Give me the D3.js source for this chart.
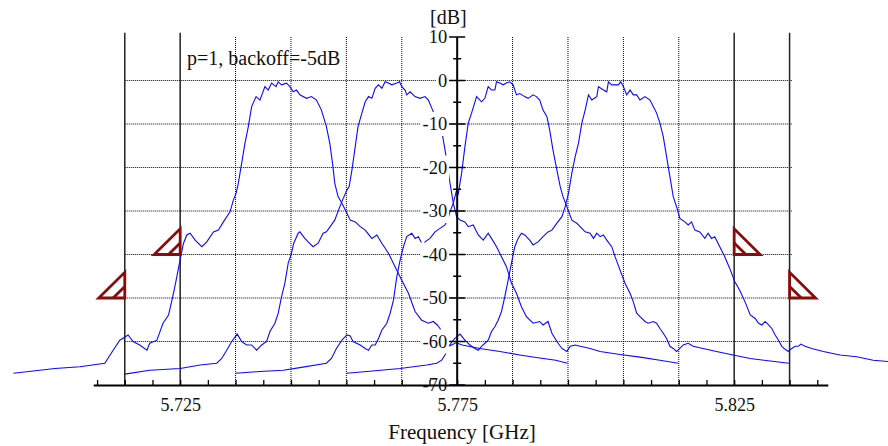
<!DOCTYPE html>
<html>
<head>
<meta charset="UTF-8">
<script src="https://d3js.org/d3.v7.min.js"></script>
<style>
  body { margin: 0; background: #fff; }
  svg text { font-family: "Liberation Serif", "Times New Roman", serif; fill: #111; }
</style>
</head>
<body>
<svg id="chart" width="888" height="446"></svg>
<script>
// ---- data: [frequency GHz, level dB] ----
var ch1 = [[5.6949,-67.3],[5.7024,-66.2],[5.7069,-65.8],[5.7114,-65.0],[5.7129,-62.0],[5.7141,-59.7],[5.7156,-58.5],[5.7165,-60.0],[5.7177,-60.8],[5.7190,-62.0],[5.7195,-60.4],[5.7208,-59.7],[5.7219,-55.8],[5.7229,-53.9],[5.7238,-48.9],[5.7244,-45.1],[5.7251,-40.5],[5.7256,-37.4],[5.7262,-35.5],[5.7268,-35.1],[5.7277,-36.7],[5.7289,-38.2],[5.7298,-37.1],[5.7310,-34.8],[5.7319,-34.4],[5.7328,-32.5],[5.7340,-30.2],[5.7346,-27.5],[5.7351,-25.9],[5.7355,-23.6],[5.7361,-19.0],[5.7367,-14.4],[5.7373,-10.6],[5.7379,-6.0],[5.7387,-3.7],[5.7394,-4.5],[5.7403,-1.4],[5.7409,-2.2],[5.7415,-0.6],[5.7423,-1.4],[5.7427,-0.3],[5.7433,-1.0],[5.7442,-0.6],[5.7448,-1.4],[5.7454,-2.6],[5.7460,-2.2],[5.7466,-3.3],[5.7478,-4.1],[5.7487,-3.7],[5.7496,-4.5],[5.7505,-6.8],[5.7514,-10.6],[5.7520,-14.4],[5.7525,-19.0],[5.7529,-23.6],[5.7535,-26.7],[5.7542,-28.2],[5.7551,-30.5],[5.7557,-32.1],[5.7566,-32.5],[5.7575,-33.6],[5.7584,-34.4],[5.7596,-36.3],[5.7605,-35.5],[5.7614,-37.4],[5.7626,-39.7],[5.7641,-43.6],[5.7650,-45.9],[5.7662,-48.9],[5.7674,-53.1],[5.7686,-55.1],[5.7698,-55.8],[5.7707,-55.4],[5.7714,-56.2],[5.7719,-57.0],[5.7726,-59.5],[5.7737,-61.0],[5.7748,-60.3],[5.7759,-60.8],[5.7791,-61.6],[5.7827,-62.3],[5.7863,-63.1],[5.7899,-63.8],[5.7928,-64.3],[5.7949,-65.0]];

var ch2 = [[5.7150,-67.5],[5.7195,-66.6],[5.7250,-66.2],[5.7286,-65.4],[5.7316,-65.0],[5.7325,-63.9],[5.7334,-62.0],[5.7343,-60.0],[5.7353,-58.3],[5.7361,-60.0],[5.7370,-60.8],[5.7379,-60.8],[5.7388,-62.0],[5.7397,-60.8],[5.7406,-60.0],[5.7412,-57.7],[5.7421,-55.8],[5.7427,-53.5],[5.7433,-49.7],[5.7439,-46.6],[5.7445,-42.0],[5.7451,-39.7],[5.7455,-37.4],[5.7463,-35.1],[5.7466,-34.8],[5.7475,-36.3],[5.7481,-37.1],[5.7490,-38.2],[5.7499,-37.4],[5.7508,-35.1],[5.7514,-34.8],[5.7523,-33.2],[5.7529,-32.1],[5.7537,-29.4],[5.7543,-27.5],[5.7551,-25.2],[5.7555,-24.4],[5.7560,-20.6],[5.7566,-15.2],[5.7571,-10.6],[5.7578,-7.5],[5.7584,-4.9],[5.7590,-3.7],[5.7596,-4.1],[5.7602,-1.8],[5.7608,-1.0],[5.7614,-1.8],[5.7620,-0.3],[5.7626,-0.6],[5.7632,-1.0],[5.7641,-0.6],[5.7646,-0.3],[5.7650,-1.4],[5.7656,-2.2],[5.7659,-3.3],[5.7665,-2.6],[5.7674,-3.7],[5.7683,-4.1],[5.7692,-3.7],[5.7698,-4.5],[5.7707,-7.2],[5.7714,-10.0],[5.7724,-12.9],[5.7729,-16.7],[5.7733,-20.0],[5.7737,-23.5],[5.7743,-28.2],[5.7749,-31.3],[5.7755,-32.1],[5.7764,-32.5],[5.7770,-33.6],[5.7779,-33.2],[5.7788,-35.5],[5.7797,-36.7],[5.7806,-35.1],[5.7812,-36.3],[5.7821,-38.2],[5.7830,-40.5],[5.7839,-42.8],[5.7848,-46.6],[5.7857,-48.9],[5.7866,-52.0],[5.7875,-54.3],[5.7887,-55.8],[5.7899,-55.4],[5.7905,-56.2],[5.7914,-55.4],[5.7921,-58.1],[5.7930,-60.0],[5.7939,-61.6],[5.7948,-62.3],[5.7954,-61.1],[5.7963,-60.8],[5.7972,-61.1],[5.7990,-61.6],[5.8008,-62.3],[5.8044,-63.0],[5.8080,-63.6],[5.8116,-64.3],[5.8149,-65.0]];

var ch3 = [[5.7350,-67.3],[5.7394,-66.9],[5.7436,-66.6],[5.7466,-66.0],[5.7514,-65.0],[5.7523,-63.9],[5.7532,-61.6],[5.7542,-59.7],[5.7551,-58.5],[5.7557,-58.7],[5.7562,-60.0],[5.7575,-60.8],[5.7584,-61.6],[5.7590,-62.0],[5.7596,-60.8],[5.7602,-60.8],[5.7608,-59.3],[5.7614,-57.4],[5.7623,-55.8],[5.7629,-53.5],[5.7635,-50.5],[5.7641,-45.1],[5.7647,-41.3],[5.7653,-38.2],[5.7659,-35.9],[5.7668,-35.1],[5.7674,-36.3],[5.7680,-35.9],[5.7686,-37.4],[5.7689,-37.8],[5.7692,-37.1],[5.7701,-36.3],[5.7710,-34.8],[5.7719,-34.0],[5.7728,-33.2],[5.7733,-32.0],[5.7737,-30.2],[5.7743,-28.2],[5.7749,-25.2],[5.7752,-26.0],[5.7758,-21.3],[5.7764,-15.2],[5.7770,-9.8],[5.7776,-7.5],[5.7785,-3.7],[5.7794,-4.9],[5.7800,-4.1],[5.7806,-1.4],[5.7812,-2.2],[5.7818,-2.2],[5.7821,-0.3],[5.7827,-0.6],[5.7833,-1.0],[5.7839,-0.6],[5.7845,-0.3],[5.7851,-1.0],[5.7857,-3.3],[5.7863,-3.0],[5.7872,-3.7],[5.7878,-4.1],[5.7887,-3.3],[5.7893,-3.7],[5.7899,-4.5],[5.7905,-6.8],[5.7912,-8.3],[5.7917,-11.4],[5.7923,-16.0],[5.7930,-20.6],[5.7936,-24.4],[5.7941,-26.7],[5.7948,-29.0],[5.7957,-32.1],[5.7966,-32.8],[5.7975,-34.0],[5.7981,-34.8],[5.7990,-35.1],[5.7996,-36.3],[5.8002,-35.1],[5.8008,-35.9],[5.8014,-35.5],[5.8020,-36.7],[5.8029,-38.2],[5.8035,-40.5],[5.8044,-43.6],[5.8053,-46.6],[5.8062,-48.9],[5.8068,-50.9],[5.8074,-53.5],[5.8080,-54.3],[5.8089,-55.4],[5.8095,-55.8],[5.8104,-55.4],[5.8110,-55.8],[5.8116,-57.0],[5.8122,-58.1],[5.8128,-59.3],[5.8134,-61.1],[5.8140,-61.6],[5.8146,-62.3],[5.8152,-61.6],[5.8158,-60.8],[5.8167,-60.4],[5.8176,-61.1],[5.8194,-61.6],[5.8218,-62.3],[5.8248,-63.1],[5.8279,-63.9],[5.8315,-64.5],[5.8349,-65.0]];

var ch4 = [[5.7550,-67.3],[5.7587,-66.9],[5.7647,-66.2],[5.7695,-65.4],[5.7713,-65.0],[5.7722,-64.3],[5.7728,-63.1],[5.7733,-61.5],[5.7741,-60.0],[5.7746,-59.3],[5.7755,-58.3],[5.7764,-59.7],[5.7773,-60.8],[5.7782,-61.6],[5.7788,-62.0],[5.7794,-61.1],[5.7800,-60.4],[5.7806,-59.7],[5.7812,-57.7],[5.7818,-56.6],[5.7824,-55.1],[5.7830,-53.1],[5.7836,-49.7],[5.7842,-45.9],[5.7848,-42.0],[5.7854,-38.2],[5.7860,-36.3],[5.7866,-35.1],[5.7872,-35.5],[5.7881,-36.7],[5.7887,-37.8],[5.7896,-37.1],[5.7905,-35.9],[5.7914,-34.8],[5.7921,-34.4],[5.7930,-32.8],[5.7939,-31.3],[5.7945,-29.0],[5.7951,-25.9],[5.7957,-21.3],[5.7963,-17.5],[5.7969,-14.4],[5.7975,-9.8],[5.7981,-6.8],[5.7987,-3.3],[5.7993,-4.5],[5.8002,-3.7],[5.8005,-1.4],[5.8014,-2.2],[5.8020,-2.6],[5.8023,-0.3],[5.8029,-1.0],[5.8035,-1.0],[5.8041,-1.0],[5.8045,-0.3],[5.8050,-1.4],[5.8056,-3.3],[5.8062,-2.2],[5.8068,-3.3],[5.8074,-3.3],[5.8080,-4.5],[5.8089,-3.7],[5.8098,-4.5],[5.8104,-6.0],[5.8110,-7.5],[5.8116,-9.8],[5.8122,-12.9],[5.8128,-17.5],[5.8134,-22.1],[5.8140,-26.7],[5.8146,-29.0],[5.8152,-31.7],[5.8161,-32.5],[5.8167,-33.2],[5.8173,-32.5],[5.8179,-34.4],[5.8188,-34.8],[5.8197,-36.3],[5.8203,-35.1],[5.8209,-36.3],[5.8215,-35.9],[5.8224,-38.2],[5.8233,-40.5],[5.8242,-43.2],[5.8251,-46.2],[5.8260,-48.2],[5.8270,-51.0],[5.8279,-53.9],[5.8288,-54.7],[5.8294,-55.8],[5.8300,-56.2],[5.8306,-55.4],[5.8312,-56.2],[5.8318,-57.0],[5.8324,-58.5],[5.8330,-59.7],[5.8336,-61.1],[5.8342,-61.8],[5.8348,-62.3],[5.8354,-61.6],[5.8360,-61.1],[5.8366,-61.1],[5.8370,-60.6],[5.8378,-61.1],[5.8390,-61.6],[5.8411,-62.3],[5.8441,-63.1],[5.8471,-63.5],[5.8501,-64.3],[5.8528,-64.6],[5.8550,-64.8]];

var traces = [ch1, ch2, ch3, ch4];

// spectrum mask corners
var maskFreq  = [5.715, 5.725, 5.825, 5.835];
var maskLevel = [-50, -40, -40, -50];
var maskSide  = [-1, -1, 1, 1];      // -1 = flag points left, 1 = right

// band edges (solid verticals) and dotted grid
var bandEdges = [5.715, 5.725, 5.825, 5.835];
var xGrid = [5.735, 5.745, 5.755, 5.765, 5.785, 5.795, 5.805, 5.815];
var yGrid = [0, -10, -20, -30, -40, -50, -60];

// ticks
var xTickLabels = ["5.725", "5.775", "5.825"];
var yTicks = [10, 0, -10, -20, -30, -40, -50, -60, -70];
var yTickLabels = ["10", "0", "-10", "-20", "-30", "-40", "-50", "-60", "-70"];
var yMinor = [5, -5, -15, -25, -35, -45, -55, -65];

var legendText = "p=1, backoff=-5dB";

var serif = "'Liberation Serif', 'Times New Roman', serif";

// ---- scales ----
var svg = d3.select("#chart");

var x = d3.scaleLinear()
	.domain([5.7093, 5.8419])
	.range([93.2, 827.8]);

var y = d3.scaleLinear()
	.domain([-70, 10])
	.range([385, 37]);

var axisX = x(5.775);

// Dotted horizontal grid
svg.append("g")
	.selectAll("line")
	.data(yGrid).enter()
	.append("line")
	.attr("x1", x(5.715))
	.attr("x2", x(5.8355))
	.attr("y1", d => y(d))
	.attr("y2", d => y(d))
	.attr("stroke", "#000")
	.attr("stroke-width", 1)
	.attr("stroke-dasharray", "1,1");

// Dotted vertical grid
svg.append("g")
	.selectAll("line")
	.data(xGrid).enter()
	.append("line")
	.attr("x1", d => x(d))
	.attr("x2", d => x(d))
	.attr("y1", y(10))
	.attr("y2", y(-70))
	.attr("stroke", "#000")
	.attr("stroke-width", 1)
	.attr("stroke-dasharray", "1,1");

// Solid band edge lines
svg.append("g")
	.selectAll("line")
	.data(bandEdges).enter()
	.append("line")
	.attr("x1", d => x(d))
	.attr("x2", d => x(d))
	.attr("y1", y(11))
	.attr("y2", y(-70))
	.attr("stroke", "#222")
	.attr("stroke-width", 1.5);

// Spectra
var line = d3.line()
	.x(d => x(d[0]))
	.y(d => y(d[1]));

svg.append("g")
	.selectAll("path")
	.data(traces).enter()
	.append("path")
	.attr("d", line)
	.attr("fill", "none")
	.attr("stroke", "#0a0aff")
	.attr("stroke-width", 1.1);

// Y tick labels with white boxes behind them (they hide the traces)
var yLab = svg.append("g");
yTicks.forEach(function(v, i){
	var g = yLab.append("g");
	var t = g.append("text")
		.attr("x", axisX - 10)
		.attr("y", y(v))
		.attr("dy", "0.34em")
		.attr("text-anchor", "end")
		.style("font-family", serif)
		.style("font-size", "18.5px")
		.text(yTickLabels[i]);
	var b = t.node().getBBox();
	g.insert("rect", "text")
		.attr("x", b.x - 2)
		.attr("y", y(v) - 12)
		.attr("width", b.width + 4)
		.attr("height", 24)
		.attr("fill", "#fff");
});

// X axis
var xAxis = d3.axisBottom(x)
	.tickValues(d3.range(5.710, 5.8401, 0.005))
	.tickSizeInner(-5)
	.tickSizeOuter(0)
	.tickPadding(13)
	.tickFormat(function(d){
		var s = d.toFixed(3);
		return xTickLabels.indexOf(s) >= 0 ? s : "";
	});

var gx = svg.append("g")
	.attr("transform", "translate(0," + y(-70) + ")")
	.call(xAxis);
gx.select(".domain").attr("stroke", "#000").attr("stroke-width", 2);
gx.selectAll(".tick line").attr("stroke", "#000").attr("stroke-width", 1.3);
gx.selectAll(".tick text")
	.style("font-family", serif)
	.style("font-size", "18px")
	.style("fill", "#111");

// Y axis line and ticks (both sides)
svg.append("line")
	.attr("x1", axisX).attr("x2", axisX)
	.attr("y1", y(10)).attr("y2", y(-70))
	.attr("stroke", "#000")
	.attr("stroke-width", 2);

svg.append("g")
	.selectAll("line")
	.data(yTicks).enter()
	.append("line")
	.attr("x1", axisX - 8).attr("x2", axisX + 8)
	.attr("y1", d => y(d)).attr("y2", d => y(d))
	.attr("stroke", "#000")
	.attr("stroke-width", 1.5);

svg.append("g")
	.selectAll("line")
	.data(yMinor).enter()
	.append("line")
	.attr("x1", axisX - 4).attr("x2", axisX + 4)
	.attr("y1", d => y(d)).attr("y2", d => y(d))
	.attr("stroke", "#000")
	.attr("stroke-width", 1.5);

// Mask flags (triangles)
var flagW = 0.0047, flagH = 5.9, inner = 0.45;
var flags = svg.append("g")
	.attr("fill", "none")
	.attr("stroke", "#8b0a0a")
	.attr("stroke-width", 2.8);
maskFreq.forEach(function(f, i){
	var s = maskSide[i], lv = maskLevel[i];
	var x0 = x(f), y0 = y(lv);
	var xt = x(f + s * flagW), yt = y(lv + flagH);
	var xi = x(f + s * flagW * inner), yi = y(lv + flagH * inner);
	flags.append("path")
		.attr("d", "M" + x0 + "," + yt + " L" + x0 + "," + y0 + " L" + xt + "," + y0 + " Z");
	flags.append("path")
		.attr("d", "M" + x0 + "," + yi + " L" + xi + "," + y0);
});

// Texts
svg.append("text")
	.attr("x", 187)
	.attr("y", 65)
	.style("font-family", serif)
	.style("font-size", "20px")
	.text(legendText);

svg.append("text")
	.attr("x", 430)
	.attr("y", 24)
	.style("font-family", serif)
	.style("font-size", "20px")
	.text("[dB]");

svg.append("text")
	.attr("x", 462)
	.attr("y", 439)
	.attr("text-anchor", "middle")
	.style("font-family", serif)
	.style("font-size", "21px")
	.text("Frequency [GHz]");
</script>
</body>
</html>
